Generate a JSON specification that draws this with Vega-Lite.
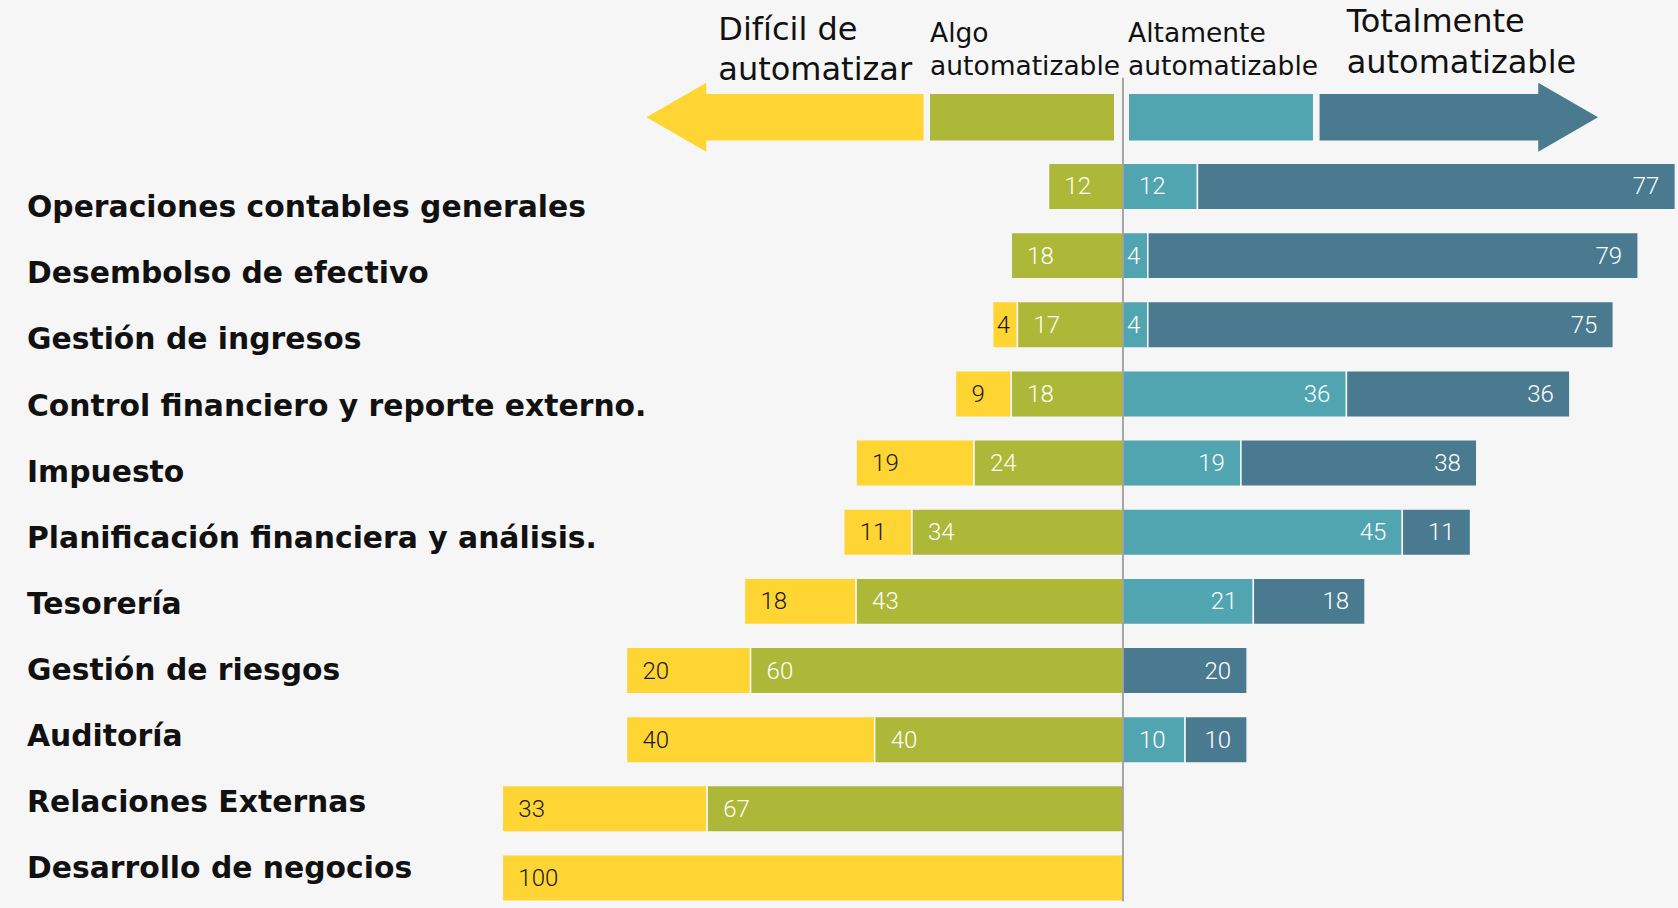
{
  "$schema": "https://vega.github.io/schema/vega-lite/v6.json",
  "width": 1678,
  "height": 908,
  "autosize": {"type": "fit", "contains": "padding"},
  "padding": 0,
  "background": "#f6f6f6",
  "config": {"view": {"stroke": null}},
  "datasets": {
    "rows": [
      {"cat": "Operaciones contables generales", "level": "Algo automatizable", "value": 12},
      {"cat": "Operaciones contables generales", "level": "Altamente automatizable", "value": 12},
      {"cat": "Operaciones contables generales", "level": "Totalmente automatizable", "value": 77},
      {"cat": "Desembolso de efectivo", "level": "Algo automatizable", "value": 18},
      {"cat": "Desembolso de efectivo", "level": "Altamente automatizable", "value": 4},
      {"cat": "Desembolso de efectivo", "level": "Totalmente automatizable", "value": 79},
      {"cat": "Gestión de ingresos", "level": "Difícil de automatizar", "value": 4},
      {"cat": "Gestión de ingresos", "level": "Algo automatizable", "value": 17},
      {"cat": "Gestión de ingresos", "level": "Altamente automatizable", "value": 4},
      {"cat": "Gestión de ingresos", "level": "Totalmente automatizable", "value": 75},
      {"cat": "Control financiero y reporte externo.", "level": "Difícil de automatizar", "value": 9},
      {"cat": "Control financiero y reporte externo.", "level": "Algo automatizable", "value": 18},
      {"cat": "Control financiero y reporte externo.", "level": "Altamente automatizable", "value": 36},
      {"cat": "Control financiero y reporte externo.", "level": "Totalmente automatizable", "value": 36},
      {"cat": "Impuesto", "level": "Difícil de automatizar", "value": 19},
      {"cat": "Impuesto", "level": "Algo automatizable", "value": 24},
      {"cat": "Impuesto", "level": "Altamente automatizable", "value": 19},
      {"cat": "Impuesto", "level": "Totalmente automatizable", "value": 38},
      {"cat": "Planificación financiera y análisis.", "level": "Difícil de automatizar", "value": 11},
      {"cat": "Planificación financiera y análisis.", "level": "Algo automatizable", "value": 34},
      {"cat": "Planificación financiera y análisis.", "level": "Altamente automatizable", "value": 45},
      {"cat": "Planificación financiera y análisis.", "level": "Totalmente automatizable", "value": 11},
      {"cat": "Tesorería", "level": "Difícil de automatizar", "value": 18},
      {"cat": "Tesorería", "level": "Algo automatizable", "value": 43},
      {"cat": "Tesorería", "level": "Altamente automatizable", "value": 21},
      {"cat": "Tesorería", "level": "Totalmente automatizable", "value": 18},
      {"cat": "Gestión de riesgos", "level": "Difícil de automatizar", "value": 20},
      {"cat": "Gestión de riesgos", "level": "Algo automatizable", "value": 60},
      {"cat": "Gestión de riesgos", "level": "Totalmente automatizable", "value": 20},
      {"cat": "Auditoría", "level": "Difícil de automatizar", "value": 40},
      {"cat": "Auditoría", "level": "Algo automatizable", "value": 40},
      {"cat": "Auditoría", "level": "Altamente automatizable", "value": 10},
      {"cat": "Auditoría", "level": "Totalmente automatizable", "value": 10},
      {"cat": "Relaciones Externas", "level": "Difícil de automatizar", "value": 33},
      {"cat": "Relaciones Externas", "level": "Algo automatizable", "value": 67},
      {"cat": "Desarrollo de negocios", "level": "Difícil de automatizar", "value": 100}
    ],
    "header": [
      {"level": "Difícil de automatizar", "from": -70, "to": -32.13, "head": -71.96, "labelAt": -65.2, "lines": ["Difícil de", "automatizar"]},
      {"level": "Algo automatizable", "from": -31.09, "to": -1.45, "labelAt": -31.09, "lines": ["Algo", "automatizable"]},
      {"level": "Altamente automatizable", "from": 0.97, "to": 30.61, "labelAt": 0.81, "lines": ["Altamente", "automatizable"]},
      {"level": "Totalmente automatizable", "from": 31.67, "to": 70, "head": 71.72, "labelAt": 36.04, "lines": ["Totalmente", "automatizable"]}
    ]
  },
  "layer": [
    {
      "data": {"name": "rows"},
      "transform": [
        {"filter": {"field": "level", "oneOf": ["Difícil de automatizar", "Algo automatizable"]}},
        {"stack": "value", "groupby": ["cat"], "sort": [{"field": "level", "order": "ascending"}], "as": ["v0", "v1"]}
      ],
      "encoding": {
        "y": {"field": "cat", "type": "nominal", "axis": null,
          "scale": {"domain": ["header", "Operaciones contables generales", "Desembolso de efectivo", "Gestión de ingresos", "Control financiero y reporte externo.", "Impuesto", "Planificación financiera y análisis.", "Tesorería", "Gestión de riesgos", "Auditoría", "Relaciones Externas", "Desarrollo de negocios"], "paddingInner": 0.328, "paddingOuter": 0.7295, "align": 0.9326, "round": false}}
      },
      "layer": [
        {
          "mark": {"type": "bar", "stroke": "#f6f6f6", "strokeWidth": 1.5},
          "encoding": {
            "x": {"field": "v0", "type": "quantitative", "axis": null, "scale": {"domain": [-89.42, 180.93], "reverse": true, "nice": false, "zero": false}},
            "x2": {"field": "v1"},
            "color": {"field": "level", "type": "nominal", "legend": null,
              "scale": {"domain": ["Difícil de automatizar", "Algo automatizable", "Altamente automatizable", "Totalmente automatizable"], "range": ["#FFD533", "#ADB838", "#51A5B0", "#4A7A8F"]}}
          }
        },
        {
          "transform": [{"filter": "datum.value >= 6"}],
          "mark": {"type": "text", "align": "left", "baseline": "middle", "dx": 16, "dy": 1, "font": "Roboto", "fontWeight": 300, "fontSize": 24},
          "encoding": {
            "x": {"field": "v1", "type": "quantitative", "axis": null, "scale": {"domain": [-89.42, 180.93], "reverse": true, "nice": false, "zero": false}},
            "text": {"field": "value", "type": "quantitative"},
            "color": {"condition": {"test": "datum.level === 'Difícil de automatizar'", "value": "#1a1a1a"}, "value": "#ffffff"}
          }
        },
        {
          "transform": [{"filter": "datum.value < 6"}],
          "mark": {"type": "text", "align": "left", "baseline": "middle", "dx": 4, "dy": 1, "font": "Roboto", "fontWeight": 300, "fontSize": 24},
          "encoding": {
            "x": {"field": "v1", "type": "quantitative", "axis": null, "scale": {"domain": [-89.42, 180.93], "reverse": true, "nice": false, "zero": false}},
            "text": {"field": "value", "type": "quantitative"},
            "color": {"condition": {"test": "datum.level === 'Difícil de automatizar'", "value": "#1a1a1a"}, "value": "#ffffff"}
          }
        }
      ]
    },
    {
      "data": {"name": "rows"},
      "transform": [
        {"filter": {"field": "level", "oneOf": ["Altamente automatizable", "Totalmente automatizable"]}},
        {"stack": "value", "groupby": ["cat"], "sort": [{"field": "level", "order": "ascending"}], "as": ["v0", "v1"]}
      ],
      "encoding": {
        "y": {"field": "cat", "type": "nominal", "axis": null,
          "scale": {"domain": ["header", "Operaciones contables generales", "Desembolso de efectivo", "Gestión de ingresos", "Control financiero y reporte externo.", "Impuesto", "Planificación financiera y análisis.", "Tesorería", "Gestión de riesgos", "Auditoría", "Relaciones Externas", "Desarrollo de negocios"], "paddingInner": 0.328, "paddingOuter": 0.7295, "align": 0.9326, "round": false}}
      },
      "layer": [
        {
          "mark": {"type": "bar", "stroke": "#f6f6f6", "strokeWidth": 1.5},
          "encoding": {
            "x": {"field": "v0", "type": "quantitative", "axis": null, "scale": {"domain": [-180.93, 89.42], "nice": false, "zero": false}},
            "x2": {"field": "v1"},
            "color": {"field": "level", "type": "nominal", "legend": null,
              "scale": {"domain": ["Difícil de automatizar", "Algo automatizable", "Altamente automatizable", "Totalmente automatizable"], "range": ["#FFD533", "#ADB838", "#51A5B0", "#4A7A8F"]}}
          }
        },
        {
          "transform": [{"filter": "datum.level === 'Totalmente automatizable' || datum.value >= 15"}],
          "mark": {"type": "text", "align": "right", "baseline": "middle", "dx": -16, "dy": 1, "font": "Roboto", "fontWeight": 300, "fontSize": 24, "color": "#ffffff"},
          "encoding": {
            "x": {"field": "v1", "type": "quantitative", "axis": null, "scale": {"domain": [-180.93, 89.42], "nice": false, "zero": false}},
            "text": {"field": "value", "type": "quantitative"}
          }
        },
        {
          "transform": [{"filter": "datum.level === 'Altamente automatizable' && datum.value >= 6 && datum.value < 15"}],
          "mark": {"type": "text", "align": "left", "baseline": "middle", "dx": 16, "dy": 1, "font": "Roboto", "fontWeight": 300, "fontSize": 24, "color": "#ffffff"},
          "encoding": {
            "x": {"field": "v0", "type": "quantitative", "axis": null, "scale": {"domain": [-180.93, 89.42], "nice": false, "zero": false}},
            "text": {"field": "value", "type": "quantitative"}
          }
        },
        {
          "transform": [{"filter": "datum.level === 'Altamente automatizable' && datum.value < 6"}],
          "mark": {"type": "text", "align": "left", "baseline": "middle", "dx": 4, "dy": 1, "font": "Roboto", "fontWeight": 300, "fontSize": 24, "color": "#ffffff"},
          "encoding": {
            "x": {"field": "v0", "type": "quantitative", "axis": null, "scale": {"domain": [-180.93, 89.42], "nice": false, "zero": false}},
            "text": {"field": "value", "type": "quantitative"}
          }
        }
      ]
    },
    {
      "data": {"name": "header"},
      "encoding": {
        "y": {"datum": "header", "type": "nominal", "axis": null,
          "scale": {"domain": ["header", "Operaciones contables generales", "Desembolso de efectivo", "Gestión de ingresos", "Control financiero y reporte externo.", "Impuesto", "Planificación financiera y análisis.", "Tesorería", "Gestión de riesgos", "Auditoría", "Relaciones Externas", "Desarrollo de negocios"], "paddingInner": 0.328, "paddingOuter": 0.7295, "align": 0.9326, "round": false}}
      },
      "layer": [
        {
          "mark": {"type": "bar"},
          "encoding": {
            "x": {"field": "from", "type": "quantitative", "axis": null, "scale": {"domain": [-180.93, 89.42], "nice": false, "zero": false}},
            "x2": {"field": "to"},
            "color": {"field": "level", "type": "nominal", "legend": null,
              "scale": {"domain": ["Difícil de automatizar", "Algo automatizable", "Altamente automatizable", "Totalmente automatizable"], "range": ["#FFD533", "#ADB838", "#51A5B0", "#4A7A8F"]}}
          }
        },
        {
          "transform": [{"filter": "datum.level === 'Difícil de automatizar'"}],
          "mark": {"type": "point", "shape": "triangle-left", "size": 4761, "filled": true, "opacity": 1, "color": "#FFD533"},
          "encoding": {
            "x": {"field": "head", "type": "quantitative", "axis": null, "scale": {"domain": [-180.93, 89.42], "nice": false, "zero": false}}
          }
        },
        {
          "transform": [{"filter": "datum.level === 'Totalmente automatizable'"}],
          "mark": {"type": "point", "shape": "triangle-right", "size": 4761, "filled": true, "opacity": 1, "color": "#4A7A8F"},
          "encoding": {
            "x": {"field": "head", "type": "quantitative", "axis": null, "scale": {"domain": [-180.93, 89.42], "nice": false, "zero": false}}
          }
        },
        {
          "transform": [{"filter": "datum.level === 'Difícil de automatizar'"}],
          "mark": {"type": "text", "align": "left", "baseline": "alphabetic", "dy": -77.35, "lineHeight": 40, "font": "DejaVu Sans", "fontSize": 32, "color": "#111111"},
          "encoding": {
            "x": {"field": "labelAt", "type": "quantitative", "axis": null, "scale": {"domain": [-180.93, 89.42], "nice": false, "zero": false}},
            "text": {"field": "lines"}
          }
        },
        {
          "transform": [{"filter": "datum.level === 'Algo automatizable' || datum.level === 'Altamente automatizable'"}],
          "mark": {"type": "text", "align": "left", "baseline": "alphabetic", "dy": -75.65, "lineHeight": 33.3, "font": "DejaVu Sans", "fontSize": 26.5, "color": "#111111"},
          "encoding": {
            "x": {"field": "labelAt", "type": "quantitative", "axis": null, "scale": {"domain": [-180.93, 89.42], "nice": false, "zero": false}},
            "text": {"field": "lines"}
          }
        },
        {
          "transform": [{"filter": "datum.level === 'Totalmente automatizable'"}],
          "mark": {"type": "text", "align": "left", "baseline": "alphabetic", "dy": -85.65, "lineHeight": 41.6, "font": "DejaVu Sans", "fontSize": 32, "color": "#111111"},
          "encoding": {
            "x": {"field": "labelAt", "type": "quantitative", "axis": null, "scale": {"domain": [-180.93, 89.42], "nice": false, "zero": false}},
            "text": {"field": "lines"}
          }
        }
      ]
    },
    {
      "data": {"name": "rows"},
      "transform": [{"aggregate": [{"op": "count", "as": "n"}], "groupby": ["cat"]}],
      "mark": {"type": "text", "align": "left", "baseline": "middle", "dy": 2, "font": "DejaVu Sans", "fontWeight": "bold", "fontSize": 29.8, "color": "#111111"},
      "encoding": {
        "x": {"datum": -176.58, "type": "quantitative", "axis": null, "scale": {"domain": [-180.93, 89.42], "nice": false, "zero": false}},
        "y": {"field": "cat", "type": "nominal", "axis": null,
          "scale": {"type": "point", "domain": ["_top1", "_top2", "Operaciones contables generales", "Desembolso de efectivo", "Gestión de ingresos", "Control financiero y reporte externo.", "Impuesto", "Planificación financiera y análisis.", "Tesorería", "Gestión de riesgos", "Auditoría", "Relaciones Externas", "Desarrollo de negocios"], "padding": 0.8685, "align": 0.6446}},
        "text": {"field": "cat", "type": "nominal"}
      }
    },
    {
      "data": {"values": [{}]},
      "mark": {"type": "rule", "color": "#8c8c8c", "strokeWidth": 1.5},
      "encoding": {
        "x": {"datum": 0, "type": "quantitative", "axis": null, "scale": {"domain": [-180.93, 89.42], "nice": false, "zero": false}},
        "y": {"datum": "header", "type": "nominal", "axis": null, "bandPosition": -0.35,
          "scale": {"domain": ["header", "Operaciones contables generales", "Desembolso de efectivo", "Gestión de ingresos", "Control financiero y reporte externo.", "Impuesto", "Planificación financiera y análisis.", "Tesorería", "Gestión de riesgos", "Auditoría", "Relaciones Externas", "Desarrollo de negocios"], "paddingInner": 0.328, "paddingOuter": 0.7295, "align": 0.9326, "round": false}},
        "y2": {"datum": "Desarrollo de negocios", "bandPosition": 1}
      }
    }
  ],
  "resolve": {"scale": {"x": "independent", "y": "independent", "color": "independent"}}
}
